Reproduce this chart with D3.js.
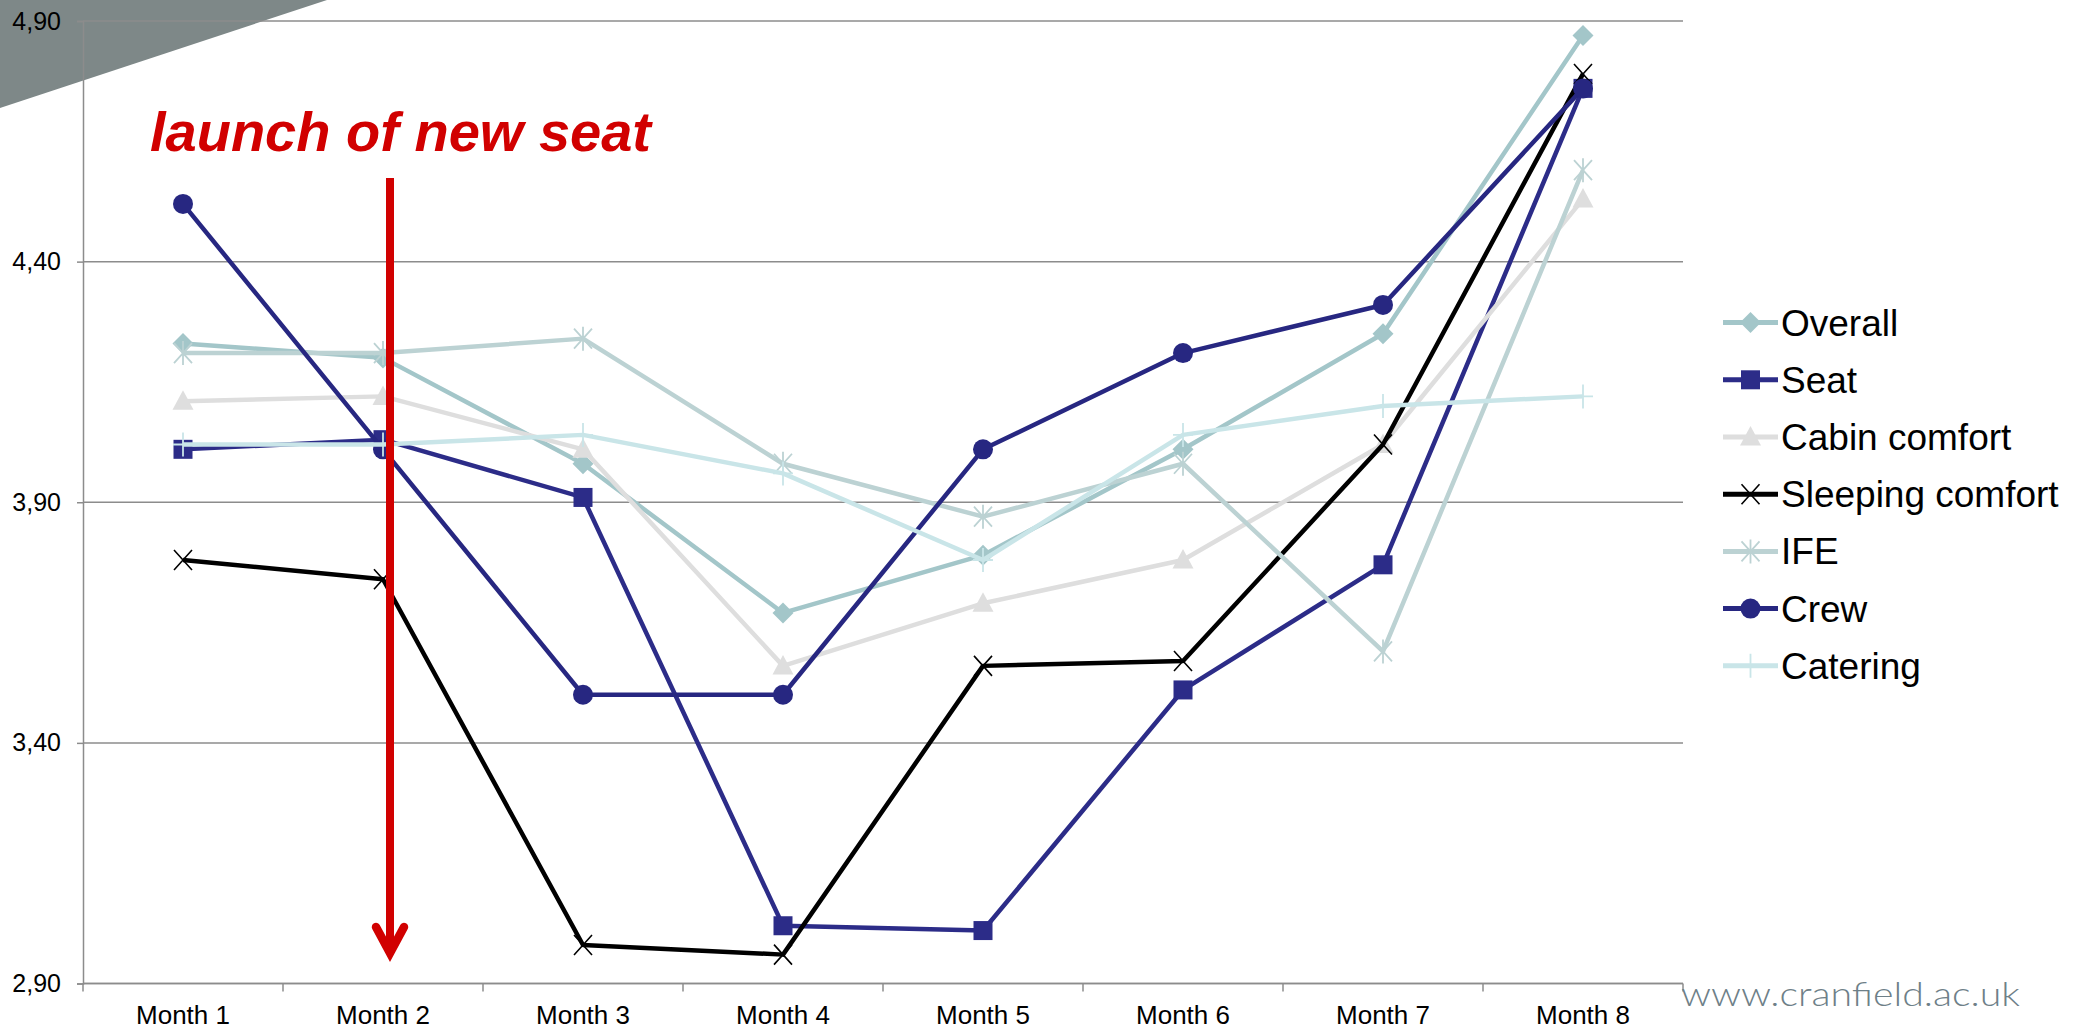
<!DOCTYPE html>
<html>
<head>
<meta charset="utf-8">
<script src="https://cdn.jsdelivr.net/npm/d3@7"></script>
<style>
  html, body { margin: 0; padding: 0; background: #ffffff; }
  svg { display: block; }
</style>
</head>
<body>
<svg id="chart" width="2073" height="1029"></svg>
<script>
// Monthly satisfaction scores (scale values) per survey item
const months = ["Month 1", "Month 2", "Month 3", "Month 4", "Month 5", "Month 6", "Month 7", "Month 8"];
const overall  = [4.23, 4.20, 3.98, 3.67, 3.79, 4.01, 4.25, 4.87];
const seat     = [4.01, 4.03, 3.91, 3.02, 3.01, 3.51, 3.77, 4.76];
const cabin    = [4.11, 4.12, 4.01, 3.56, 3.69, 3.78, 4.02, 4.53];
const sleeping = [3.78, 3.74, 2.98, 2.96, 3.56, 3.57, 4.02, 4.79];
const ife      = [4.21, 4.21, 4.24, 3.98, 3.87, 3.98, 3.59, 4.59];
const crew     = [4.52, 4.01, 3.50, 3.50, 4.01, 4.21, 4.31, 4.76];
const catering = [4.02, 4.02, 4.04, 3.96, 3.78, 4.04, 4.10, 4.12];
const seriesNames = ["Overall", "Seat", "Cabin comfort", "Sleeping comfort", "IFE", "Crew", "Catering"];
const yTicks = [2.9, 3.4, 3.9, 4.4, 4.9];
const launchMonth = "Month 2";
const launchLabel = "launch of new seat";
const siteLabel = "www.cranfield.ac.uk";

(function () {
const seriesValues = [overall, seat, cabin, sleeping, ife, crew, catering];
const styles = [
  { color: "#a3c6c9", marker: "diamond" },
  { color: "#2c2c88", marker: "square" },
  { color: "#dedede", marker: "triangle" },
  { color: "#000000", marker: "cross" },
  { color: "#bcd2d3", marker: "star" },
  { color: "#272781", marker: "circle" },
  { color: "#c9e5e8", marker: "plus" }
];
const series = seriesNames.map((name, i) => ({ name, values: seriesValues[i], ...styles[i] }));

const svg = d3.select("#chart");
const plotLeft = 83, plotRight = 1683, plotTop = 21, plotBottom = 983.5;

const x = d3.scaleBand().domain(months).range([plotLeft, plotRight]).paddingInner(0).paddingOuter(0);
const xc = m => x(m) + x.bandwidth() / 2;
const y = d3.scaleLinear().domain([2.9, 4.9]).range([plotBottom, plotTop]);
const fmt = v => d3.format(".2f")(v).replace(".", ",");

// corner decoration
svg.append("polygon")
  .attr("points", "0,0 327,0 0,108")
  .attr("fill", "#7e8888");

// horizontal gridlines
svg.append("g").selectAll("line").data(yTicks).join("line")
  .attr("x1", plotLeft).attr("x2", plotRight)
  .attr("y1", d => y(d)).attr("y2", d => y(d))
  .attr("stroke", "#8c8c8c").attr("stroke-width", 1.5);

// y axis
const yAxis = d3.axisLeft(y).tickValues(yTicks).tickFormat(fmt).tickSize(6).tickPadding(16);
const gy = svg.append("g").attr("transform", `translate(${plotLeft},0)`).call(yAxis);
gy.select(".domain").attr("stroke", "#8c8c8c").attr("stroke-width", 1.5);
gy.selectAll(".tick line").attr("stroke", "#8c8c8c").attr("stroke-width", 1.5);
gy.selectAll(".tick text")
  .attr("font-family", "'Liberation Sans', Arial, sans-serif")
  .attr("font-size", 25).attr("fill", "#000");

// x axis: baseline, ticks between categories, centred labels
svg.append("line")
  .attr("x1", plotLeft).attr("x2", plotRight).attr("y1", plotBottom).attr("y2", plotBottom)
  .attr("stroke", "#8c8c8c").attr("stroke-width", 1.5);
const edges = months.map(m => x(m)).concat([x(months[months.length - 1]) + x.bandwidth()]);
svg.append("g").selectAll("line").data(edges).join("line")
  .attr("x1", d => d).attr("x2", d => d)
  .attr("y1", plotBottom).attr("y2", plotBottom + 8)
  .attr("stroke", "#8c8c8c").attr("stroke-width", 1.5);
svg.append("g").selectAll("text").data(months).join("text")
  .attr("x", d => xc(d)).attr("y", 1024)
  .attr("text-anchor", "middle")
  .attr("font-family", "'Liberation Sans', Arial, sans-serif")
  .attr("font-size", 26).attr("fill", "#000")
  .text(d => d);

// marker shapes
function drawMarker(g, type, color, cx, cy) {
  const s = 10.5;
  if (type === "diamond") {
    g.append("path").attr("d", `M${cx},${cy - s} L${cx + s},${cy} L${cx},${cy + s} L${cx - s},${cy} Z`).attr("fill", color);
  } else if (type === "square") {
    g.append("rect").attr("x", cx - 9.5).attr("y", cy - 9.5).attr("width", 19).attr("height", 19).attr("fill", color);
  } else if (type === "triangle") {
    g.append("path").attr("d", `M${cx},${cy - 11} L${cx + 10.5},${cy + 8.5} L${cx - 10.5},${cy + 8.5} Z`).attr("fill", color);
  } else if (type === "circle") {
    g.append("circle").attr("cx", cx).attr("cy", cy).attr("r", 10).attr("fill", color);
  } else if (type === "cross") {
    g.append("path").attr("d", `M${cx - 9},${cy - 10} L${cx + 9},${cy + 10} M${cx + 9},${cy - 10} L${cx - 9},${cy + 10}`)
      .attr("stroke", color).attr("stroke-width", 1.6).attr("fill", "none");
  } else if (type === "star") {
    g.append("path").attr("d", `M${cx - 9},${cy - 10} L${cx + 9},${cy + 10} M${cx + 9},${cy - 10} L${cx - 9},${cy + 10} M${cx},${cy - 12} L${cx},${cy + 12}`)
      .attr("stroke", color).attr("stroke-width", 1.8).attr("fill", "none");
  } else if (type === "plus") {
    g.append("path").attr("d", `M${cx - 10},${cy} L${cx + 10},${cy} M${cx},${cy - 12} L${cx},${cy + 12}`)
      .attr("stroke", color).attr("stroke-width", 1.8).attr("fill", "none");
  }
}

// series lines and markers
const line = d3.line().x((d, i) => xc(months[i])).y(d => y(d));
const plot = svg.append("g");
series.forEach(s => {
  const g = plot.append("g");
  g.append("path").attr("d", line(s.values))
    .attr("fill", "none").attr("stroke", s.color).attr("stroke-width", 4.5)
    .attr("stroke-linejoin", "round");
  s.values.forEach((v, i) => drawMarker(g, s.marker, s.color, xc(months[i]), y(v)));
});

// legend
const legend = svg.append("g");
series.forEach((s, i) => {
  const cy = 322.6 + i * 57.2;
  const g = legend.append("g");
  g.append("line").attr("x1", 1723).attr("x2", 1778).attr("y1", cy).attr("y2", cy)
    .attr("stroke", s.color).attr("stroke-width", 5);
  drawMarker(g, s.marker, s.color, 1750.5, cy);
  g.append("text").attr("x", 1781).attr("y", cy + 13)
    .attr("font-family", "'Liberation Sans', Arial, sans-serif")
    .attr("font-size", 37).attr("fill", "#000")
    .text(s.name);
});

// launch marker: arrow and caption
const ax = xc(launchMonth) + 7;
svg.append("line").attr("x1", ax).attr("x2", ax).attr("y1", 178).attr("y2", 950)
  .attr("stroke", "#d10000").attr("stroke-width", 8);
svg.append("path")
  .attr("d", `M${ax - 14},${927} L${ax},${953} L${ax + 14},${927}`)
  .attr("fill", "none").attr("stroke", "#d10000").attr("stroke-width", 8.5)
  .attr("stroke-linecap", "round").attr("stroke-linejoin", "miter");
svg.append("text").attr("x", 150).attr("y", 151)
  .attr("font-family", "'Liberation Sans', Arial, sans-serif")
  .attr("font-size", 56).attr("font-weight", "bold").attr("font-style", "italic")
  .attr("fill", "#d10000")
  .text(launchLabel);

// site address
svg.append("text").attr("x", 1681).attr("y", 1006)
  .attr("font-family", "Lato, 'Open Sans', sans-serif")
  .attr("font-weight", 300)
  .attr("font-size", 33).attr("fill", "#6e8088")
  .attr("textLength", 339).attr("lengthAdjust", "spacingAndGlyphs")
  .text(siteLabel);
})();
</script>
</body>
</html>
